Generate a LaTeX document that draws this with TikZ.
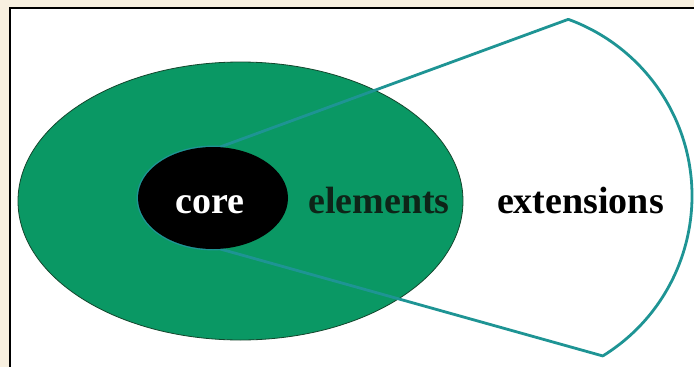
\documentclass[tikz,border=0pt]{standalone}
\usepackage{fontspec}
\setmainfont{Liberation Serif}
\usetikzlibrary{shapes.geometric,calc}
\definecolor{cream}{RGB}{248,240,224}
\definecolor{leafgreen}{RGB}{10,152,100}
\definecolor{darkedge}{RGB}{20,70,45}
\definecolor{tealline}{RGB}{30,148,148}
\definecolor{darktext}{RGB}{14,36,24}
\tikzset{
  label38/.style={font=\fontsize{38}{40}\selectfont\bfseries, inner sep=0pt, anchor=base},
  tealpath/.style={draw=tealline, line width=2.8pt, line join=round}
}
\begin{document}
\begin{tikzpicture}[x=1pt,y=-1pt]
\useasboundingbox (0,0) rectangle (694,367);
\fill[cream] (0,0) rectangle (694,367);
\draw[fill=white, line width=1.8pt] (10,8) rectangle (702,375);
% elements ellipse
\node[ellipse, fill=leafgreen, draw=darkedge, line width=0.8pt, inner sep=0pt,
      minimum width=445pt, minimum height=278pt] (elements) at (240.5,201) {};
% extensions outline
\coordinate (cen) at (504,196);
\coordinate (A) at ($(cen)+(-70:188)$);
\coordinate (C) at ($(cen)+(58.3:188)$);
\coordinate (coretop) at ($(213,198)+(275:75 and 51)$);
\draw[tealpath] (A) -- (coretop)
   arc[start angle=275, end angle=85, x radius=75, y radius=51]
   -- (C) arc[start angle=58.3, end angle=-70, radius=188] -- cycle;
% core ellipse
\node[ellipse, fill=black, inner sep=0pt, minimum width=150pt, minimum height=102pt] (core) at (213,198) {};
% labels
\node[label38, text=white] (corelbl) at (210,213) {core};
\node[label38, text=darktext] (elemlbl) at (379,213) {elements};
\node[label38, text=black] (extlbl) at (580.5,213) {extensions};
\end{tikzpicture}
\end{document}
